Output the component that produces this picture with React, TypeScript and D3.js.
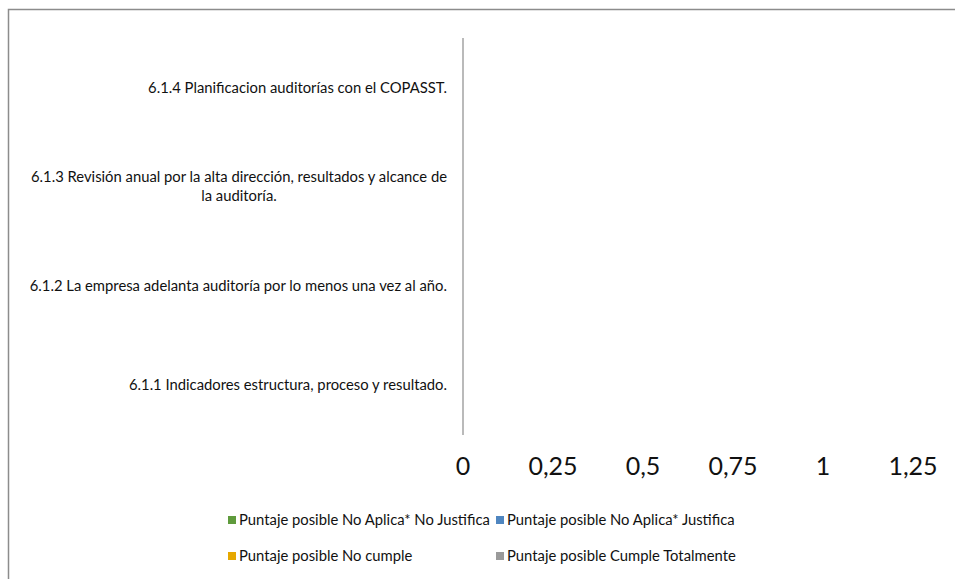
import React, { useRef, useEffect } from 'react';
import * as d3 from 'd3';

const categories: string[] = [
  '6.1.1 Indicadores estructura, proceso y resultado.',
  '6.1.2 La empresa adelanta auditoría por lo menos una vez al año.',
  '6.1.3 Revisión anual por la alta dirección, resultados y alcance de la auditoría.',
  '6.1.4 Planificacion auditorías con el COPASST.',
];

const seriesNames: string[] = [
  'Puntaje posible No Aplica* No Justifica',
  'Puntaje posible No Aplica* Justifica',
  'Puntaje posible No cumple',
  'Puntaje posible Cumple Totalmente',
];

const seriesColors: string[] = ['#5f9b3c', '#4f86c0', '#e6a800', '#9a9a9a'];

// every series is empty (0) for each category
const noAplicaNoJustifica: number[] = [0, 0, 0, 0];
const noAplicaJustifica: number[] = [0, 0, 0, 0];
const noCumple: number[] = [0, 0, 0, 0];
const cumpleTotalmente: number[] = [0, 0, 0, 0];

const xTicks: number[] = [0, 0.25, 0.5, 0.75, 1, 1.25];

const App: React.FC = () => {
  const svgRef = useRef<SVGSVGElement | null>(null);

  useEffect(() => {
    if (!svgRef.current) return;
    const svg = d3.select(svgRef.current);
    svg.selectAll('*').remove();

    const width = 955;
    const height = 579;
    const font = 'Lato, "Open Sans", sans-serif';
    const labelSize = 14.8;

    // chart border (only top/left visible)
    svg.append('rect')
      .attr('x', 8.5).attr('y', 9.5)
      .attr('width', width + 20).attr('height', height + 20)
      .attr('fill', '#fff')
      .attr('stroke', '#8c8c8c')
      .attr('stroke-width', 1.5);

    const plot = { left: 463, right: 913, top: 38, bottom: 435 };

    const x = d3.scaleLinear().domain([0, 1.25]).range([plot.left, plot.right]);
    const y = d3.scaleBand<string>()
      .domain([...categories].reverse())
      .range([plot.top, plot.bottom])
      .paddingInner(0.5)
      .paddingOuter(0.25);

    const values = [noAplicaNoJustifica, noAplicaJustifica, noCumple, cumpleTotalmente];
    const table = categories.map((c, i) => {
      const row: Record<string, any> = { category: c };
      seriesNames.forEach((s, j) => { row[s] = values[j][i]; });
      return row;
    });
    const stacked = d3.stack<Record<string, any>>().keys(seriesNames)(table);

    svg.append('g')
      .selectAll('g')
      .data(stacked)
      .enter()
      .append('g')
      .attr('fill', (_d, i) => seriesColors[i])
      .selectAll('rect')
      .data(d => d.map(p => ({ p, c: p.data.category as string })))
      .enter()
      .append('rect')
      .attr('x', d => x(d.p[0]))
      .attr('y', d => y(d.c)!)
      .attr('width', d => x(d.p[1]) - x(d.p[0]))
      .attr('height', y.bandwidth());

    // vertical category axis line
    svg.append('line')
      .attr('x1', plot.left).attr('x2', plot.left)
      .attr('y1', plot.top).attr('y2', plot.bottom)
      .attr('stroke', '#8c8c8c')
      .attr('stroke-width', 1.2);

    // category labels, wrapped, block right-aligned with centered lines
    const maxW = 430;
    const labelRight = 447;
    categories.forEach(c => {
      const cy = y(c)! + y.bandwidth() / 2;
      const t = svg.append('text')
        .attr('font-family', font)
        .attr('font-size', labelSize)
        .attr('fill', '#111')
        .attr('text-anchor', 'middle');
      const words = c.split(' ');
      const lines: string[] = [];
      let cur = '';
      const probe = t.append('tspan');
      words.forEach(w => {
        const test = cur ? cur + ' ' + w : w;
        probe.text(test);
        if ((probe.node() as SVGTSpanElement).getComputedTextLength() > maxW && cur) {
          lines.push(cur);
          cur = w;
        } else cur = test;
      });
      lines.push(cur);
      probe.remove();
      let blockW = 0;
      const probe2 = t.append('tspan');
      lines.forEach(l => {
        probe2.text(l);
        blockW = Math.max(blockW, (probe2.node() as SVGTSpanElement).getComputedTextLength());
      });
      probe2.remove();
      const cx = labelRight - blockW / 2;
      const lh = 19;
      lines.forEach((l, i) => {
        t.append('tspan')
          .attr('x', cx)
          .attr('y', cy + (i - (lines.length - 1) / 2) * lh + 5)
          .text(l);
      });
    });

    // x tick labels
    const fmt = (v: number) => String(v).replace('.', ',');
    svg.append('g')
      .selectAll('text')
      .data(xTicks)
      .enter()
      .append('text')
      .attr('x', d => x(d))
      .attr('y', 475)
      .attr('text-anchor', 'middle')
      .attr('font-family', font)
      .attr('font-size', 25)
      .attr('fill', '#111')
      .text(d => fmt(d));

    // legend
    const legendPos = [
      { x: 228, y: 520 },
      { x: 496, y: 520 },
      { x: 228, y: 556 },
      { x: 496, y: 556 },
    ];
    const lg = svg.append('g')
      .selectAll('g')
      .data(seriesNames)
      .enter()
      .append('g')
      .attr('transform', (_d, i) => `translate(${legendPos[i].x},${legendPos[i].y})`);
    lg.append('rect')
      .attr('x', 0).attr('y', -4)
      .attr('width', 8).attr('height', 8)
      .attr('fill', (_d, i) => seriesColors[i]);
    lg.append('text')
      .attr('x', 11).attr('y', 5)
      .attr('font-family', font)
      .attr('font-size', labelSize)
      .attr('fill', '#111')
      .text(d => d);
  }, []);

  return (
    <svg
      ref={svgRef}
      width={955}
      height={579}
      style={{ position: 'absolute', left: 0, top: 0, display: 'block' }}
    />
  );
};

export default App;
